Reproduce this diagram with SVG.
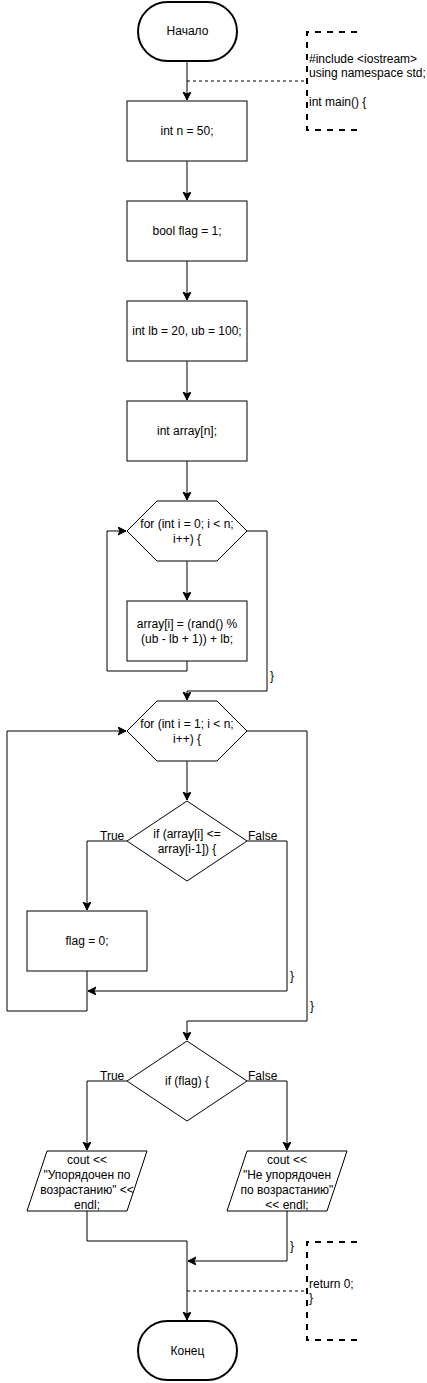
<svg xmlns="http://www.w3.org/2000/svg" width="427" height="1383" viewBox="0 0 427 1383">
<defs>
<marker id="arr" markerWidth="10" markerHeight="10" refX="8" refY="4" orient="auto" markerUnits="userSpaceOnUse">
<path d="M0,0 L8,4 L0,8 L2,4 z" fill="#000" stroke="#000" stroke-width="1"/>
</marker>
</defs>
<style>
text{font-family:"Liberation Sans",Arial,sans-serif;font-size:12px;fill:#000}
.c{text-anchor:middle}
.box{fill:#fff;stroke:#000;stroke-width:1}
.term{fill:#fff;stroke:#000;stroke-width:2}
.ln{fill:none;stroke:#000;stroke-width:1}
.dl{fill:none;stroke:#000;stroke-width:1;stroke-dasharray:3,3}
.br{fill:none;stroke:#000;stroke-width:2;stroke-dasharray:6,6}
</style>
<rect width="427" height="1383" fill="#fff"/>
<g id="connectors">
<path class="ln" d="M187,61 V100" marker-end="url(#arr)"/>
<path class="ln" d="M187,161 V200" marker-end="url(#arr)"/>
<path class="ln" d="M187,261 V300" marker-end="url(#arr)"/>
<path class="ln" d="M187,361 V400" marker-end="url(#arr)"/>
<path class="ln" d="M187,461 V500" marker-end="url(#arr)"/>
<path class="ln" d="M187,561 V600" marker-end="url(#arr)"/>
<path class="ln" d="M187,661 V671 H107 V531 H126" marker-end="url(#arr)"/>
<path class="ln" d="M247,531 H267 V691 H187 V700" marker-end="url(#arr)"/>
<path class="ln" d="M187,761 V800" marker-end="url(#arr)"/>
<path class="ln" d="M127,841 H87 V910" marker-end="url(#arr)"/>
<path class="ln" d="M247,841 H287 V991 H88" marker-end="url(#arr)"/>
<path class="ln" d="M87,971 V1011 H7 V731 H126" marker-end="url(#arr)"/>
<path class="ln" d="M247,731 H307 V1021 H187 V1040" marker-end="url(#arr)"/>
<path class="ln" d="M127,1081 H87 V1150" marker-end="url(#arr)"/>
<path class="ln" d="M247,1081 H287 V1150" marker-end="url(#arr)"/>
<path class="ln" d="M87,1211 V1241 H187 V1320" marker-end="url(#arr)"/>
<path class="ln" d="M287,1211 V1261 H188" marker-end="url(#arr)"/>
<path class="dl" d="M187,81 H307"/>
<path class="dl" d="M187,1291 H307"/>
<text x="270" y="680">}</text>
<text x="290" y="980">}</text>
<text x="310" y="1010">}</text>
<text x="290" y="1250">}</text>
<text x="100" y="840">True</text>
<text x="248" y="840">False</text>
<text x="100" y="1080">True</text>
<text x="248" y="1080">False</text>
</g>
<g id="start">
<rect class="term" x="138" y="2" width="99" height="59" rx="29.5"/>
<text class="c" x="187.5" y="35">Начало</text>
</g>
<g id="comment1">
<path class="br" d="M357,32 H307 V130 H357"/>
<text x="309" y="63">#include &lt;iostream&gt;</text>
<text x="309" y="77">using namespace std;</text>
<text x="309" y="106">int main() {</text>
</g>
<g id="n1">
<rect class="box" x="127" y="101" width="120" height="60"/>
<text class="c" x="187" y="135">int n = 50;</text>
</g>
<g id="n2">
<rect class="box" x="127" y="201" width="120" height="60"/>
<text class="c" x="187" y="235">bool flag = 1;</text>
</g>
<g id="n3">
<rect class="box" x="127" y="301" width="120" height="60"/>
<text class="c" x="187" y="335">int lb = 20, ub = 100;</text>
</g>
<g id="n4">
<rect class="box" x="127" y="401" width="120" height="60"/>
<text class="c" x="187" y="435">int array[n];</text>
</g>
<g id="loop1">
<polygon class="box" points="127,531 157,501 217,501 247,531 217,561 157,561"/>
<text class="c" x="187" y="528">for (int i = 0; i &lt; n;</text>
<text class="c" x="187" y="543">i++) {</text>
</g>
<g id="n5">
<rect class="box" x="127" y="601" width="120" height="60"/>
<text class="c" x="187" y="628">array[i] = (rand() %</text>
<text class="c" x="187" y="643">(ub - lb + 1)) + lb;</text>
</g>
<g id="loop2">
<polygon class="box" points="127,731 157,701 217,701 247,731 217,761 157,761"/>
<text class="c" x="187" y="728">for (int i = 1; i &lt; n;</text>
<text class="c" x="187" y="743">i++) {</text>
</g>
<g id="if1">
<polygon class="box" points="187,801 247,841 187,881 127,841"/>
<text class="c" x="187" y="838">if (array[i] &lt;=</text>
<text class="c" x="187" y="853">array[i-1]) {</text>
</g>
<g id="n6">
<rect class="box" x="27" y="911" width="120" height="60"/>
<text class="c" x="87" y="945">flag = 0;</text>
</g>
<g id="if2">
<polygon class="box" points="187,1041 247,1081 187,1121 127,1081"/>
<text class="c" x="187" y="1085">if (flag) {</text>
</g>
<g id="out1">
<polygon class="box" points="47,1151 147,1151 127,1211 27,1211"/>
<text class="c" x="87" y="1164">cout &lt;&lt;</text>
<text class="c" x="87" y="1179">"Упорядочен по</text>
<text class="c" x="87" y="1194">возрастанию" &lt;&lt;</text>
<text class="c" x="87" y="1209">endl;</text>
</g>
<g id="out2">
<polygon class="box" points="247,1151 347,1151 327,1211 227,1211"/>
<text class="c" x="287" y="1164">cout &lt;&lt;</text>
<text class="c" x="287" y="1179">"Не упорядочен</text>
<text class="c" x="287" y="1194">по возрастанию"</text>
<text class="c" x="287" y="1209">&lt;&lt; endl;</text>
</g>
<g id="comment2">
<path class="br" d="M357,1242 H307 V1340 H357"/>
<text x="309" y="1288">return 0;</text>
<text x="309" y="1302">}</text>
</g>
<g id="end">
<rect class="term" x="138" y="1321" width="99" height="59" rx="29.5"/>
<text class="c" x="187.5" y="1355">Конец</text>
</g>
</svg>
